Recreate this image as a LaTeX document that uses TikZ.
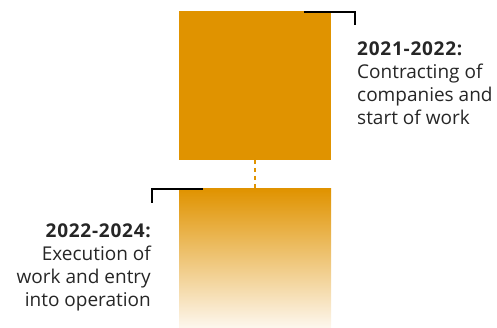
\documentclass[tikz,border=0pt]{standalone}
\usepackage{fontspec}
\setmainfont{Open Sans}
\definecolor{phase}{RGB}{224,147,0}
\definecolor{fade}{RGB}{253,247,238}
\newcommand{\phaseyear}[1]{{\bfseries\addfontfeature{LetterSpace=4}#1}}
\tikzset{
    phasebox/.style={draw=none, minimum width=152pt, inner sep=0pt, outer sep=0pt},
    bracket/.style={line width=2pt},
    phasetext/.style={inner sep=0pt, text=black!85, font=\fontsize{19}{22.7}\selectfont}
}
\begin{document}
\begin{tikzpicture}[x=1pt, y=-1pt]
\useasboundingbox (0,0) rectangle (497,328);
\node[phasebox, fill=phase, minimum height=149pt, anchor=north west] (first) at (179,11) {};
\node[phasebox, top color=phase, bottom color=fade, minimum height=139pt, anchor=north west] (second) at (179,189) {};
\draw[phase, line width=2pt, dash pattern=on 4pt off 4pt] (first.south) -- (second.north);

\draw[bracket](304,12)--(355,12)--(355,25);
\draw[bracket](203,189)--(152,189)--(152,203);

\node[phasetext, anchor=north west, align=left] (firsttxt) at (357,42)
    {\phaseyear{2021-2022:}\\Contracting of\\companies and\\start of work};
\node[phasetext, anchor=north east, align=right] (secondtxt) at (151,224)
    {\phaseyear{2022-2024:}\\Execution of\\work and entry\\into operation};
\end{tikzpicture}
\end{document}
